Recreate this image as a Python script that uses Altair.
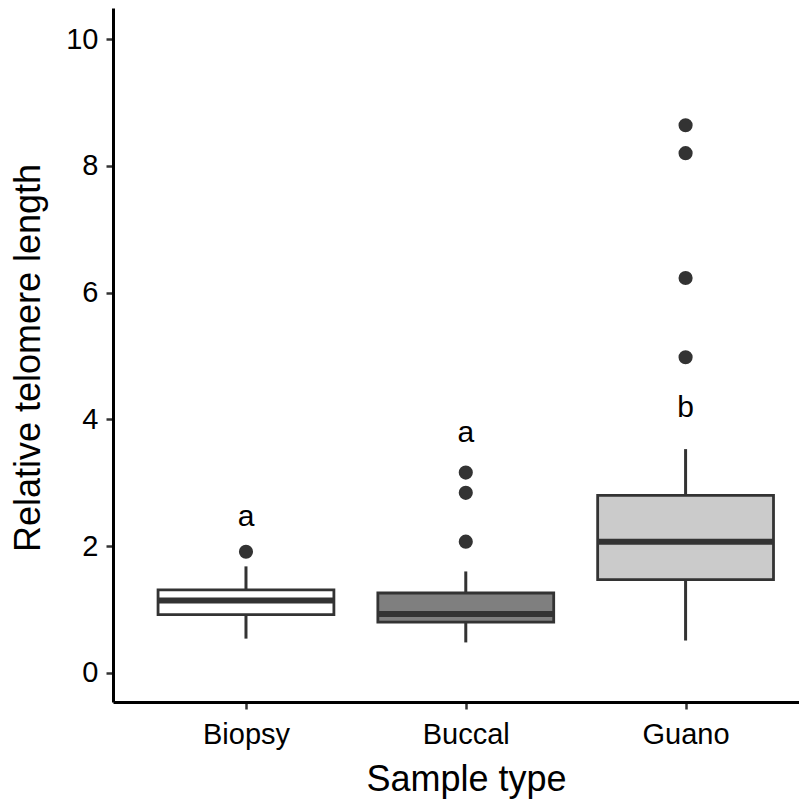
import altair as alt
import pandas as pd

categories = ["Biopsy", "Buccal", "Guano"]
q1 = [0.92, 0.80, 1.47]
median = [1.14, 0.93, 2.07]
q3 = [1.31, 1.26, 2.80]
whisker_low = [0.54, 0.48, 0.51]
whisker_high = [1.68, 1.60, 3.53]
outlier_group = ["Biopsy", "Buccal", "Buccal", "Buccal", "Guano", "Guano", "Guano", "Guano"]
outlier_value = [1.91, 3.16, 2.84, 2.07, 8.64, 8.20, 6.23, 4.98]
letters = ["a", "a", "b"]
letter_y = [2.46, 3.79, 4.18]
fill_colors = ["#ffffff", "#7f7f7f", "#cbcbcb"]

pos = {c: i + 1 for i, c in enumerate(categories)}
HALF = 0.4

boxes = pd.DataFrame({
    "cat": categories,
    "pos": [pos[c] for c in categories],
    "q1": q1, "median": median, "q3": q3,
    "lo": whisker_low, "hi": whisker_high,
    "letter": letters, "ly": letter_y,
})
outs = pd.DataFrame({"cat": outlier_group, "val": outlier_value,
                     "pos": [pos[c] for c in outlier_group]})

FONT = "Liberation Sans"
xscale = alt.Scale(domain=[0.395, 3.516], nice=False, zero=False)
yscale = alt.Scale(domain=[-0.46, 10.49], nice=False, zero=False)

xaxis = alt.Axis(values=[1, 2, 3], labelExpr="['Biopsy','Buccal','Guano'][datum.value-1]",
                 title="Sample type", grid=False, domainColor="black", domainWidth=3,
                 tickColor="#333333", tickWidth=2.5, tickSize=7, labelPadding=11,
                 labelFontSize=29, labelFont=FONT, labelColor="black",
                 titleFontSize=36, titleFont=FONT, titleFontWeight="normal", titleColor="black",
                 titleX=353, titleY=88, titleBaseline="alphabetic")
yaxis = alt.Axis(values=[0, 2, 4, 6, 8, 10], format="d", title="Relative telomere length", grid=False,
                 domainColor="black", domainWidth=3, tickColor="#333333", tickWidth=2.5,
                 tickSize=7, labelPadding=8, labelFontSize=29, labelFont=FONT, labelColor="black",
                 titleFontSize=36, titleFont=FONT, titleFontWeight="normal", titleColor="black",
                 titleX=-74, titleY=349.5, titleBaseline="alphabetic", titleAngle=270)

base = alt.Chart(boxes).transform_calculate(left=f"datum.pos - {HALF}", right=f"datum.pos + {HALF}")

whisk_hi = base.mark_rule(color="#333333", strokeWidth=3).encode(
    x=alt.X("pos:Q", scale=xscale, axis=xaxis),
    y=alt.Y("q3:Q", scale=yscale, axis=yaxis),
    y2="hi:Q")
whisk_lo = base.mark_rule(color="#333333", strokeWidth=3).encode(
    x=alt.X("pos:Q", scale=xscale), y=alt.Y("q1:Q", scale=yscale), y2="lo:Q")

box = base.mark_rect(stroke="#333333", strokeWidth=2.8).encode(
    x=alt.X("left:Q", scale=xscale), x2="right:Q",
    y=alt.Y("q1:Q", scale=yscale), y2="q3:Q",
    fill=alt.Fill("cat:N", scale=alt.Scale(domain=categories, range=fill_colors), legend=None))

med = base.mark_rule(color="#333333", strokeWidth=6).encode(
    x=alt.X("left:Q", scale=xscale), x2="right:Q", y=alt.Y("median:Q", scale=yscale))

points = alt.Chart(outs).mark_circle(color="#333333", opacity=1, size=200).encode(
    x=alt.X("pos:Q", scale=xscale), y=alt.Y("val:Q", scale=yscale))

text = base.mark_text(font=FONT, fontSize=30, color="black", baseline="middle").encode(
    x=alt.X("pos:Q", scale=xscale), y=alt.Y("ly:Q", scale=yscale), text="letter:N")

chart = alt.layer(whisk_hi, whisk_lo, box, med, points, text).properties(
    width=686, height=694,
    autosize=alt.AutoSizeParams(type="none"),
    padding={"left": 105, "top": 0, "right": 0, "bottom": 97},
).configure_view(stroke=None)

chart.save("out.html", embed_options={"renderer": "svg", "actions": False})
